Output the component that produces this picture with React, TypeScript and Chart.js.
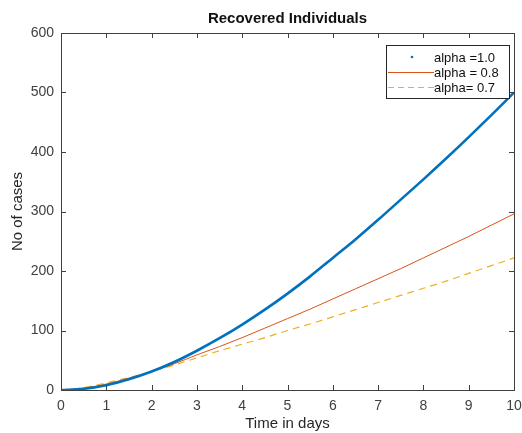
import { useEffect, useRef } from "react";
import { Chart, registerables } from "chart.js";

Chart.register(...registerables);

// ---- data ----
const timeDays = [0, 0.5, 1, 1.5, 2, 2.5, 3, 3.5, 4, 4.5, 5, 5.5, 6, 6.5, 7, 7.5, 8, 8.5, 9, 9.5, 10];
const recoveredAlpha10 = [0, 2, 8, 18, 31, 47, 66, 87, 110, 135, 162, 191, 222, 253, 286, 320, 354, 389, 425, 462, 500];
const recoveredAlpha08 = [0, 3, 10, 20, 31, 44, 59, 73, 88, 104, 120, 136, 153, 170, 187, 204, 222, 240, 258, 277, 296];
const recoveredAlpha07 = [0, 4, 12, 21, 31, 42, 54, 66, 77, 88, 100, 111, 123, 135, 147, 159, 171, 183, 196, 209, 222];
const seriesLabels = ["alpha =1.0", "alpha = 0.8", "alpha= 0.7"];
const xTickValues = [0, 1, 2, 3, 4, 5, 6, 7, 8, 9, 10];
const yTickValues = [0, 100, 200, 300, 400, 500, 600];
const chartTitle = "Recovered Individuals";
const xAxisTitle = "Time in days";
const yAxisTitle = "No of cases";

const FONT = "'Liberation Sans', Arial, Helvetica, sans-serif";
const AXIS_COLOR = "#404040";
const COLORS = ["#0072BD", "#D95319", "#EDB120"];

const toPoints = (ys: number[]) => ys.map((y, i) => ({ x: timeDays[i], y }));

const framePlugin = {
  id: "matlabFrame",
  afterDatasetsDraw(chart: any) {
    const { ctx, chartArea: a, scales } = chart;
    const xs = scales.x;
    const ys = scales.y;
    const tl = 5;
    ctx.save();
    ctx.strokeStyle = AXIS_COLOR;
    ctx.lineWidth = 1;
    // box
    ctx.strokeRect(Math.round(a.left) + 0.5, Math.round(a.top) + 0.5, Math.round(a.right - a.left), Math.round(a.bottom - a.top));
    ctx.beginPath();
    for (const v of xTickValues) {
      const px = Math.round(xs.getPixelForValue(v)) + 0.5;
      ctx.moveTo(px, a.bottom);
      ctx.lineTo(px, a.bottom - tl);
      ctx.moveTo(px, a.top);
      ctx.lineTo(px, a.top + tl);
    }
    for (const v of yTickValues) {
      const py = Math.round(ys.getPixelForValue(v)) + 0.5;
      ctx.moveTo(a.left, py);
      ctx.lineTo(a.left + tl, py);
      ctx.moveTo(a.right, py);
      ctx.lineTo(a.right - tl, py);
    }
    ctx.stroke();

    // title
    ctx.fillStyle = "#111";
    ctx.font = `bold 15px ${FONT}`;
    ctx.textAlign = "center";
    ctx.textBaseline = "middle";
    ctx.fillText(chartTitle, (a.left + a.right) / 2, 19);

    // legend
    const lx = 386, ly = 45, lw = 123, lh = 53;
    ctx.fillStyle = "#fff";
    ctx.fillRect(lx, ly, lw, lh);
    ctx.strokeStyle = "#262626";
    ctx.strokeRect(lx + 0.5, ly + 0.5, lw, lh);
    const rows = [57, 72, 87];
    ctx.font = `13px ${FONT}`;
    ctx.textAlign = "left";
    rows.forEach((ry, i) => {
      ctx.strokeStyle = COLORS[i];
      ctx.fillStyle = COLORS[i];
      if (i === 0) {
        ctx.beginPath();
        ctx.arc(412, ry, 1.3, 0, Math.PI * 2);
        ctx.fill();
      } else {
        ctx.lineWidth = 1;
        ctx.setLineDash(i === 2 ? [6, 4] : []);
        ctx.beginPath();
        ctx.moveTo(388, ry + 0.5);
        ctx.lineTo(434, ry + 0.5);
        ctx.stroke();
        ctx.setLineDash([]);
      }
      ctx.fillStyle = "#111";
      ctx.fillText(seriesLabels[i], 434, ry + 1);
    });
    ctx.restore();
  },
};

export default function App() {
  const ref = useRef<HTMLCanvasElement>(null);
  useEffect(() => {
    document.body.style.margin = "0";
    const canvas = ref.current!;
    const chart = new Chart(canvas, {
      type: "line",
      data: {
        datasets: [
          {
            label: seriesLabels[0],
            data: toPoints(recoveredAlpha10),
            borderColor: COLORS[0],
            borderWidth: 2.6,
            pointRadius: 0,
            cubicInterpolationMode: "monotone",
          },
          {
            label: seriesLabels[1],
            data: toPoints(recoveredAlpha08),
            borderColor: COLORS[1],
            borderWidth: 1,
            pointRadius: 0,
            cubicInterpolationMode: "monotone",
          },
          {
            label: seriesLabels[2],
            data: toPoints(recoveredAlpha07),
            borderColor: COLORS[2],
            borderWidth: 1.2,
            borderDash: [7, 5],
            pointRadius: 0,
            cubicInterpolationMode: "monotone",
          },
        ],
      },
      options: {
        responsive: false,
        animation: false,
        devicePixelRatio: 1,
        layout: { padding: { top: 33, right: 8, left: 0, bottom: 0 } },
        plugins: {
          legend: { display: false },
          title: { display: false },
          tooltip: { enabled: false },
        },
        scales: {
          x: {
            type: "linear",
            min: 0,
            max: 10,
            afterFit: (s: any) => {
              s.height = 43;
              s.paddingRight = 0;
              s.paddingLeft = 0;
            },
            afterBuildTicks: (s: any) => {
              s.ticks = xTickValues.map((v) => ({ value: v }));
            },
            grid: { display: false, drawTicks: false },
            border: { display: false },
            ticks: {
              padding: 8,
              maxRotation: 0,
              autoSkip: false,
              color: AXIS_COLOR,
              font: { family: FONT, size: 14 },
            },
            title: {
              display: true,
              text: xAxisTitle,
              color: "#262626",
              font: { family: FONT, size: 15 },
              padding: { top: 0, bottom: 0 },
            },
          },
          y: {
            type: "linear",
            min: 0,
            max: 600,
            afterFit: (s: any) => {
              s.width = 61;
              s.paddingTop = 0;
              s.paddingBottom = 0;
            },
            afterBuildTicks: (s: any) => {
              s.ticks = yTickValues.map((v) => ({ value: v }));
            },
            grid: { display: false, drawTicks: false },
            border: { display: false },
            ticks: {
              padding: 7,
              autoSkip: false,
              color: AXIS_COLOR,
              font: { family: FONT, size: 14 },
            },
            title: {
              display: true,
              text: yAxisTitle,
              color: "#262626",
              font: { family: FONT, size: 15 },
              padding: { top: 9, bottom: 0 },
            },
          },
        },
      },
      plugins: [framePlugin],
    } as any);
    return () => chart.destroy();
  }, []);
  return <canvas ref={ref} width={522} height={433} style={{ display: "block" }} />;
}
